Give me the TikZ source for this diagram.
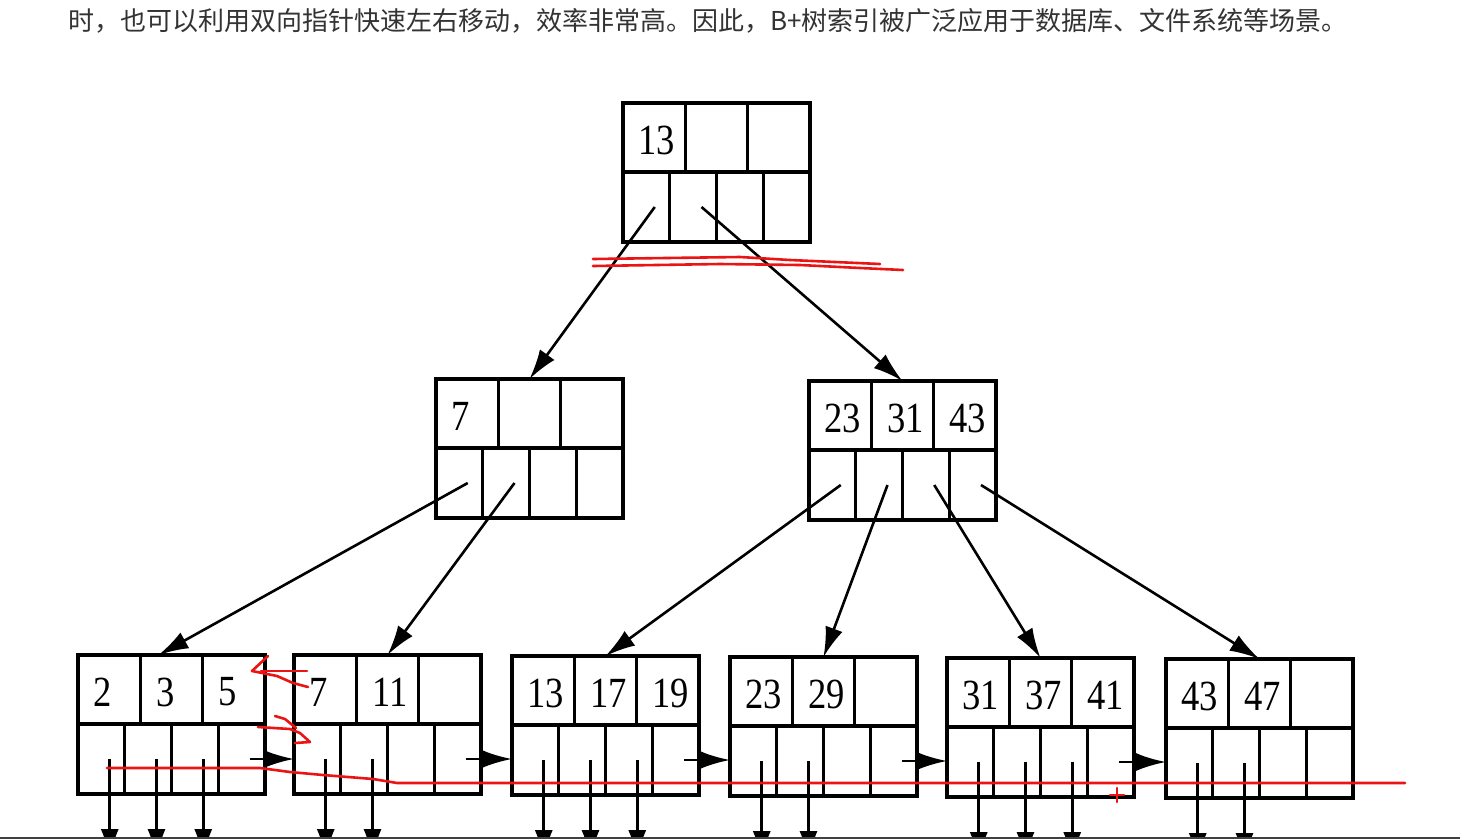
\documentclass[tikz,border=0pt]{standalone}
\usepackage{fontspec}
\setmainfont{Liberation Serif}
\newfontfamily\cjk{Noto Sans CJK SC}
\usetikzlibrary{arrows.meta,calc}
\newcommand\dg[1]{\scalebox{0.85}[1]{#1}}
\tikzset{
  edge/.style={line width=2.6pt, -{Latex[length=30pt,width=18pt]}},
  boxline/.style={line width=3.2pt},
  key/.style={font=\fontsize{43}{43}\selectfont, inner sep=0pt, anchor=west},
  redmark/.style={draw={rgb,255:red,235;green,20;blue,20}, line width=2.6pt, line cap=round, line join=round},
}
\newcommand\bpnode[6]{%
  \coordinate (#1-nw) at (#2,#3);
  \node[draw, boxline, minimum width=187pt, minimum height=139pt, inner sep=0pt, outer sep=0pt, anchor=north west] (#1) at (#1-nw) {};
  \draw[boxline] ($(#1-nw)+(0,69)$) -- ($(#1-nw)+(187,69)$);
  \foreach \i in {1,2} \draw[boxline] ($(#1-nw)+(\i*62.33,0)$) -- ($(#1-nw)+(\i*62.33,69)$);
  \foreach \i in {1,2,3} \draw[boxline] ($(#1-nw)+(\i*46.75,69)$) -- ($(#1-nw)+(\i*46.75,139)$);
  \node[key] (#1-k1) at ($(#1-nw)+(15,37)$) {\dg{#4}};
  \node[key] (#1-k2) at ($(#1-nw)+(78,37)$) {\dg{#5}};
  \node[key] (#1-k3) at ($(#1-nw)+(140,37)$) {\dg{#6}};
  \foreach \i in {1,...,4} \coordinate (#1-p\i) at ($(#1-nw)+(\i*46.75-15,104)$);
}
\begin{document}
\begin{tikzpicture}[x=1pt,y=-1pt]
\fill[white] (0,0) rectangle (1460,839);
\useasboundingbox (0,0) rectangle (1460,839);

\node[anchor=west, inner sep=0pt, font=\cjk\fontsize{26}{26}\selectfont, text=black!80] (hdr) at (68,21) {时，也可以利用双向指针快速左右移动，效率非常高。因此，B+树索引被广泛应用于数据库、文件系统等场景。};

\bpnode{r}{623}{103}{13}{}{}
\bpnode{a}{436}{379}{7}{}{}
\bpnode{b}{809}{381}{23}{31}{43}
\bpnode{l1}{78}{655}{2}{3}{5}
\bpnode{l2}{294}{655}{7}{11}{}
\bpnode{l3}{512}{656}{13}{17}{19}
\bpnode{l4}{730}{657}{23}{29}{}
\bpnode{l5}{947}{658}{31}{37}{41}
\bpnode{l6}{1166}{659}{43}{47}{}

\draw[edge] (r-p1) -- (a.north);
\draw[edge] (r-p2) -- (b.north);
\draw[edge] (a-p1) -- ($(l1.north)+(-13,0)$);
\draw[edge] (a-p2) -- (l2.north);
\draw[edge] (b-p1) -- (l3.north);
\draw[edge] (b-p2) -- (l4.north);
\draw[edge] (b-p3) -- (l5.north);
\draw[edge] (b-p4) -- (l6.north);

\draw[edge] (l1-p4) -- (l1-p4 -| l2.west);
\draw[edge] (l2-p4) -- (l2-p4 -| l3.west);
\draw[edge] (l3-p4) -- (l3-p4 -| l4.west);
\draw[edge] (l4-p4) -- (l4-p4 -| l5.west);
\draw[edge] (l5-p4) -- (l5-p4 -| l6.west);

\begin{scope}
  \clip (0,0) rectangle (1460,837);
  \foreach \l in {l1,l3,l5} \foreach \i in {1,2,3} \draw[edge] (\l-p\i) -- ($(\l-p\i)+(0,100)$);
  \foreach \l in {l2,l4,l6} \foreach \i in {1,2} \draw[edge] (\l-p\i) -- ($(\l-p\i)+(0,100)$);
\end{scope}

\draw[redmark] (593,259) -- (740,257) -- (790,260) -- (880,264);
\draw[redmark] (593,266) -- (720,264) -- (800,265) -- (860,268) -- (903,270);
\draw[redmark] (268,656) -- (252,671) -- (262,673) -- (277,676) -- (293,683) -- (308,687);
\draw[redmark] (261,671) -- (307,671);
\draw[redmark] (275,716) -- (285,719) -- (296,728);
\draw[redmark] (258,727) -- (290,729) -- (300,733) -- (310,742) -- (295,743);
\draw[redmark] (107,768) -- (260,768) -- (290,772) -- (323,775) -- (373,779) -- (397,783) -- (1405,783);
\draw[redmark] (1110,795) -- (1124,795) (1117,788) -- (1117,802);

\draw[line width=2pt, black!75] (0,838) -- (1460,838);
\end{tikzpicture}
\end{document}
